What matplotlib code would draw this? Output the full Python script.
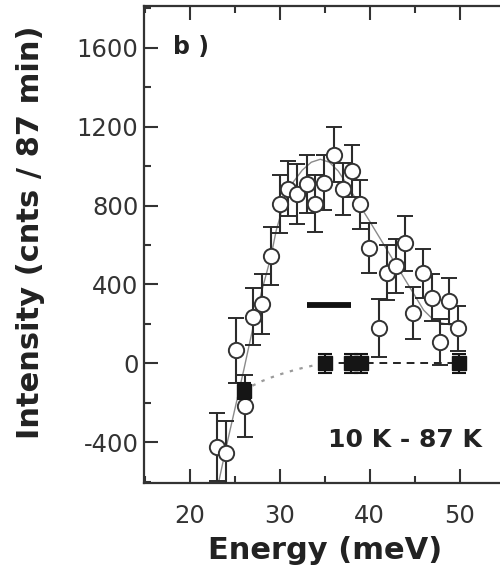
import matplotlib.pyplot as plt
from matplotlib.ticker import MultipleLocator

plt.rcParams['axes.unicode_minus'] = False

# 10 K - 87 K difference spectrum (open circles)
energy = [22.97, 24.0, 25.09, 26.09, 26.98, 28.05, 29.02, 30.0, 30.95, 31.95,
          33.0, 33.92, 34.9, 36.0, 37.0, 38.0, 38.93, 39.97, 40.98, 41.9,
          42.94, 43.9, 44.87, 45.9, 46.9, 47.84, 48.87, 49.87]
intensity = [-425, -456, 67, -216, 236, 300, 543, 808, 886, 857,
             908, 810, 916, 1059, 886, 975, 807, 585, 177, 459,
             493, 608, 256, 456, 334, 109, 317, 177]
error = [172, 163, 164, 158, 144, 152, 148, 146, 140, 152,
         147, 144, 140, 138, 132, 130, 125, 128, 147, 140,
         138, 140, 132, 123, 120, 118, 115, 115]

# background points (filled squares)
bg_energy = [26.0, 35.0, 37.9, 39.0, 49.9]
bg_intensity = [-139, 0, 0, 0, 0]
bg_error = [40, 47, 47, 47, 47]

# guide curves
fit_energy = [23.2, 24.0, 25.0, 26.0, 27.0, 28.0, 29.0, 29.6, 30.5, 31.5, 32.5,
              33.5, 34.5, 35.5, 36.5, 37.5, 38.5, 40.0, 42.0, 44.0, 46.0,
              47.0, 48.0, 49.0]
fit_intensity = [-600, -430, -230, -30, 180, 370, 540, 675, 820, 920, 980,
                 1020, 1035, 1020, 975, 905, 830, 720, 570, 420, 270,
                 225, 205, 195]
low_energy = [26.0, 27.0, 28.0, 29.0, 30.0, 31.0, 32.0, 33.0, 34.0, 35.0]
low_intensity = [-139, -112, -90, -72, -56, -42, -29, -18, -8, 0]
flat_energy = [35.0, 49.9]
flat_intensity = [0, 0]

# instrumental resolution bar
res_energy = [33.0, 37.9]
res_intensity = [295, 295]

fig = plt.figure(figsize=(5, 5.77), dpi=100)
ax = fig.add_axes([0.288, 0.1634, 0.712, 0.8262])

ax.plot(fit_energy, fit_intensity, color='#8a8a8a', lw=1.0, zorder=1)
ax.plot(low_energy, low_intensity, color='#9a9a9a', lw=1.6, ls=(0, (1.5, 3)), zorder=1)
ax.plot(flat_energy, flat_intensity, color='#222222', lw=1.4, ls=(0, (4, 3)), zorder=1)
ax.plot(res_energy, res_intensity, color='#111111', lw=4.2, solid_capstyle='butt')

ax.errorbar(energy, intensity, yerr=error, fmt='o', ms=11, mfc='white',
            mec='#333333', mew=1.4, ecolor='#2b2b2b', elinewidth=1.5,
            capsize=5.5, capthick=1.5, zorder=3)
ax.errorbar(bg_energy, bg_intensity, yerr=bg_error, fmt='s', ms=10,
            mfc='#151515', mec='#151515', ecolor='#151515', elinewidth=1.5,
            capsize=5, capthick=1.5, zorder=4)

ax.text(18.1, 1570, 'b )', fontsize=17, fontweight='bold', color='#222222')
ax.text(35.4, -425, '10 K - 87 K', fontsize=18, fontweight='bold', color='#222222')

ax.set_xlim(14.88, 54.5)
ax.set_ylim(-605, 1812)
ax.xaxis.set_major_locator(MultipleLocator(10))
ax.xaxis.set_minor_locator(MultipleLocator(5))
ax.yaxis.set_major_locator(MultipleLocator(400))
ax.yaxis.set_minor_locator(MultipleLocator(200))
ax.tick_params(which='both', direction='in', top=True, right=False,
               width=1.5, color='#333333')
ax.tick_params(which='major', length=10)
ax.tick_params(which='minor', length=5)
ax.tick_params(axis='x', labelsize=17.5, pad=15, labelcolor='#333333')
ax.tick_params(axis='y', labelsize=17.5, pad=4, labelcolor='#333333')

for side in ['left', 'bottom', 'top']:
    ax.spines[side].set_linewidth(1.6)
    ax.spines[side].set_color('#333333')
ax.spines['right'].set_visible(False)

ax.set_xlabel('Energy (meV)', fontsize=22, fontweight='bold', color='#222222',
              va='baseline')
ax.xaxis.set_label_coords(0.508, -0.160)
ax.set_ylabel('Intensity (cnts / 87 min)', fontsize=22, fontweight='bold',
              color='#222222', va='center')
ax.yaxis.set_label_coords(-0.32, 0.526)

fig.savefig('out.png', dpi=100)
